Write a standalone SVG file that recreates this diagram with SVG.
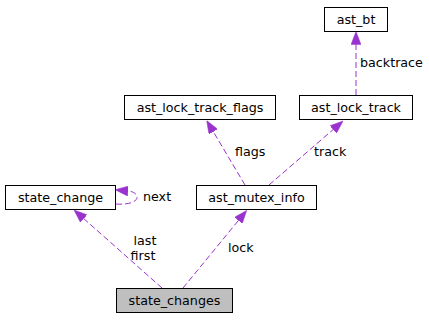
<svg xmlns="http://www.w3.org/2000/svg" width="429" height="320" viewBox="0 0 429 320">
  <style>
    .box { fill: #ffffff; stroke: #000000; stroke-width: 1; }
    .root { fill: #bfbfbf; }
    .lbl { font-family: "DejaVu Sans", sans-serif; font-size: 12.7px; fill: #000000; text-anchor: middle; }
    .elbl { font-family: "DejaVu Sans", sans-serif; font-size: 12.7px; fill: #000000; }
    .edge { fill: none; stroke: #9a32cd; stroke-width: 1; stroke-dasharray: 6,3; marker-end: url(#arrow); }
  </style>
  <defs>
    <marker id="arrow" markerUnits="userSpaceOnUse" viewBox="0 0 13 10" refX="0" refY="5" markerWidth="13" markerHeight="10" orient="auto">
      <path d="M0,0 L13,5 L0,10 z" fill="#9a32cd" stroke="#9a32cd" stroke-width="0.5"/>
    </marker>
  </defs>

  <g id="connectors">
    <!-- state_changes -> state_change (last / first) -->
    <path class="edge" d="M162,288 L83.7,218.6"/>
    <text class="elbl" x="145" y="245" text-anchor="middle">last</text>
    <text class="elbl" x="143" y="260" text-anchor="middle">first</text>
    <!-- state_changes -> ast_mutex_info (lock) -->
    <path class="edge" d="M183,288 L238.4,220.5"/>
    <text class="elbl" x="228" y="252">lock</text>
    <!-- state_change -> state_change (next) -->
    <path class="edge" d="M116,204 C127,205 137,202 137,197.5 C137,193.5 133,191.5 128,191"/>
    <text class="elbl" x="143" y="201">next</text>
    <!-- ast_mutex_info -> ast_lock_track_flags (flags) -->
    <path class="edge" d="M245,185 L213.3,131.7"/>
    <text class="elbl" x="235" y="156">flags</text>
    <!-- ast_mutex_info -> ast_lock_track (track) -->
    <path class="edge" d="M269,185 L333.2,129.5"/>
    <text class="elbl" x="314" y="156">track</text>
    <!-- ast_lock_track -> ast_bt (backtrace) -->
    <path class="edge" d="M356,95 L356,44.5"/>
    <text class="elbl" x="360" y="67">backtrace</text>
  </g>

  <g id="node-state_changes">
    <rect class="box root" x="116.5" y="288.5" width="116" height="24"/>
    <text class="lbl" x="174.5" y="305">state_changes</text>
  </g>
  <g id="node-state_change">
    <rect class="box" x="5.5" y="185.5" width="110" height="24"/>
    <text class="lbl" x="60.5" y="202">state_change</text>
  </g>
  <g id="node-ast_mutex_info">
    <rect class="box" x="196.5" y="185.5" width="120" height="24"/>
    <text class="lbl" x="256.5" y="202">ast_mutex_info</text>
  </g>
  <g id="node-ast_lock_track_flags">
    <rect class="box" x="124.5" y="95.5" width="151" height="24"/>
    <text class="lbl" x="200" y="112">ast_lock_track_flags</text>
  </g>
  <g id="node-ast_lock_track">
    <rect class="box" x="299.5" y="95.5" width="113" height="24"/>
    <text class="lbl" x="356" y="112">ast_lock_track</text>
  </g>
  <g id="node-ast_bt">
    <rect class="box" x="324.5" y="7.5" width="63" height="24"/>
    <text class="lbl" x="356" y="24">ast_bt</text>
  </g>
</svg>
